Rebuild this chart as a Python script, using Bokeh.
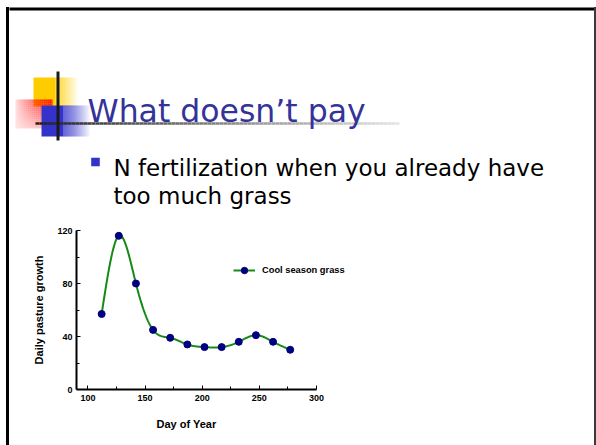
import numpy as np
from bokeh.plotting import figure
from bokeh.layouts import column, row
from bokeh.models import (Label, Range1d, FixedTicker, Legend, LegendItem,
                          ColumnDataSource, Title, Spacer, Div)
from bokeh.embed import file_html
from bokeh.resources import INLINE

# ---------------- data ----------------
days = [112, 127, 142, 157, 172, 187, 202, 217, 232, 247, 262, 277]
growth = [57, 116, 80, 45, 39, 34, 32, 32, 36, 41, 36, 30]
x_ticks = [100, 150, 200, 250, 300]
x_minor_ticks = [125, 175, 225, 275]
y_ticks = [0, 40, 80, 120]
y_minor_ticks = [20, 60, 100]
x_bounds = (90, 300)
y_bounds = (0, 120)
series_name = "Cool season grass"
x_label = "Day of Year"
y_label = "Daily pasture growth"
slide_title = "What doesn\u2019t pay"
bullet_lines = ["N fertilization when you already have", "too much grass"]


def natural_spline(xs, ys, n=400):
    xs = np.asarray(xs, float)
    ys = np.asarray(ys, float)
    k = len(xs)
    h = np.diff(xs)
    A = np.zeros((k, k))
    b = np.zeros(k)
    A[0, 0] = 1
    A[-1, -1] = 1
    for i in range(1, k - 1):
        A[i, i - 1] = h[i - 1]
        A[i, i] = 2 * (h[i - 1] + h[i])
        A[i, i + 1] = h[i]
        b[i] = 3 * ((ys[i + 1] - ys[i]) / h[i] - (ys[i] - ys[i - 1]) / h[i - 1])
    c = np.linalg.solve(A, b)
    xx = np.linspace(xs[0], xs[-1], n)
    idx = np.clip(np.searchsorted(xs, xx, side="right") - 1, 0, k - 2)
    dx = xx - xs[idx]
    bc = (ys[1:] - ys[:-1]) / h - h * (2 * c[:-1] + c[1:]) / 3
    dc = (c[1:] - c[:-1]) / (3 * h)
    yy = ys[idx] + bc[idx] * dx + c[idx] * dx ** 2 + dc[idx] * dx ** 3
    return xx, yy


# ---------------- page geometry (pixels) ----------------
PAGE_W, PAGE_H = 596, 445
TOP_H = 222                 # header figure height
AX_X0, AX_X1 = 76, 316      # pixel positions of x = 90 and x = 300
AX_Y0, AX_Y1 = 389, 230     # pixel positions of y = 0 and y = 120
BORDER_TOP = (7, 10)
BORDER_LEFT = (6, 9)
BORDER_RIGHT = (594, 596)
MID_X0, MID_X1 = BORDER_LEFT[1], BORDER_RIGHT[0]


def no_align(f):
    if "frame_align" in f.properties():
        f.frame_align = False
    return f


def bare_fig(w, h, x0, x1, y0, y1):
    f = figure(width=w, height=h, output_backend="svg", toolbar_location=None,
               x_range=Range1d(x0, x1), y_range=Range1d(y1, y0),
               x_axis_location=None, y_axis_location=None, min_border=0)
    f.xgrid.visible = False
    f.ygrid.visible = False
    f.outline_line_color = None
    f.border_fill_color = "white"
    f.background_fill_color = "white"
    return no_align(f)


# ---------------- header (slide title, bullet, logo) ----------------
top = bare_fig(MID_X1 - MID_X0, TOP_H, MID_X0, MID_X1, 0, TOP_H)
R = dict(l=[], r=[], t=[], b=[], c=[], a=[])


def rect(x0, y0, x1, y1, color, alpha=1.0):
    R["l"].append(x0); R["r"].append(x1); R["t"].append(y0); R["b"].append(y1)
    R["c"].append(color); R["a"].append(alpha)


# yellow square with right fade
rect(33, 77, 55, 106, "#FFCC00")
for i in range(23):
    rect(55 + i, 77, 56 + i, 106, "#FFCC00", 1 - (i + 0.5) / 23)
# red square, diagonal fade
cell = 2
for ix in range(0, 37, cell):
    for iy in range(0, 29, cell):
        u = (ix + cell / 2) / 37
        v = (iy + cell / 2) / 29
        a = max(0.0, min(1.0, 0.1 + 0.9 * u ** 0.8 * (1 - 0.8 * v)))
        rect(15 + ix, 99 + iy, min(15 + ix + cell, 52), min(99 + iy + cell, 128), "#FF0000", a)
# blue square with right fade
rect(41, 105, 63, 136, "#3333CC")
for i in range(27):
    rect(63 + i, 105, 64 + i, 136, "#3333CC", 1 - (i + 0.5) / 27)
# horizontal gradient rule
seg = 4
n_seg = int((400 - 35) / seg)
for i in range(n_seg):
    g = int(0x22 + (0xE4 - 0x22) * i / (n_seg - 1))
    rect(35 + i * seg, 121.7, 35 + (i + 1) * seg, 124.3, "#%02x%02x%02x" % (g, g, g))
# vertical black line
rect(56, 71, 59, 140, "#1a1a1a")
# slide top border
rect(MID_X0 - 1, BORDER_TOP[0], MID_X1 + 1, BORDER_TOP[1], "black")
# bullet square
rect(90.7, 157.3, 99.3, 165.7, "#3333CC")

top.quad(left="l", right="r", top="t", bottom="b", fill_color="c", fill_alpha="a",
         line_color=None, source=ColumnDataSource(R))

top.add_layout(Label(x=87, y=110, text=slide_title, text_font="DejaVu Sans",
                     text_font_size="31.5px", text_color="#333399",
                     text_baseline="alphabetic", text_align="left"))
top.add_layout(Label(x=113, y=167.3, text=bullet_lines[0], text_font="DejaVu Sans",
                     text_font_size="23px", text_color="black",
                     text_baseline="alphabetic", text_align="left"))
top.add_layout(Label(x=113, y=195.5, text=bullet_lines[1], text_font="DejaVu Sans",
                     text_font_size="23px", text_color="black",
                     text_baseline="alphabetic", text_align="left"))

# ---------------- chart ----------------
bot_h = PAGE_H - TOP_H
chart_w = MID_X1 - MID_X0
frame_w = MID_X1 - AX_X0
px_per_x = (AX_X1 - AX_X0) / (x_bounds[1] - x_bounds[0])
x_end = x_bounds[0] + frame_w / px_per_x

p = figure(width=chart_w, height=bot_h, output_backend="svg", toolbar_location=None,
           x_range=Range1d(x_bounds[0], x_end), y_range=Range1d(y_bounds[0], y_bounds[1]),
           min_border_left=AX_X0 - MID_X0, min_border_right=0,
           min_border_top=AX_Y1 - TOP_H, min_border_bottom=PAGE_H - AX_Y0)
no_align(p)
p.xgrid.visible = False
p.ygrid.visible = False
p.outline_line_color = None
p.background_fill_color = "white"
p.border_fill_color = "white"

CF = "Liberation Sans"
for ax in (p.xaxis[0], p.yaxis[0]):
    ax.axis_line_width = 2
    ax.axis_line_color = "black"
    ax.major_tick_in = 4
    ax.major_tick_out = 0
    ax.minor_tick_in = 3
    ax.minor_tick_out = 0
    ax.major_tick_line_color = "black"
    ax.minor_tick_line_color = "black"
    ax.major_label_text_font = CF
    ax.major_label_text_font_style = "bold"
    ax.major_label_text_font_size = "9px"
    ax.major_label_text_color = "black"
    ax.axis_label_text_font = CF
    ax.axis_label_text_font_style = "bold"
    ax.axis_label_text_font_size = "11px"
    ax.axis_label_text_color = "black"

p.xaxis[0].ticker = FixedTicker(ticks=x_ticks, minor_ticks=x_minor_ticks)
p.yaxis[0].ticker = FixedTicker(ticks=y_ticks, minor_ticks=y_minor_ticks)
p.xaxis[0].bounds = x_bounds
p.yaxis[0].bounds = y_bounds
p.yaxis[0].axis_label = y_label
p.xaxis[0].major_label_standoff = 5
p.yaxis[0].major_label_standoff = 4
p.yaxis[0].axis_label_standoff = 9

# x axis title as a bottom title, aligned under the axis extent
p.add_layout(Title(text=x_label, align="left", offset=80, text_font=CF,
                   text_font_style="bold", text_font_size="11px",
                   text_color="black", standoff=24), "below")

sx, sy = natural_spline(days, growth)
curve_src = ColumnDataSource(dict(x=sx, y=sy))
pts_src = ColumnDataSource(dict(x=days, y=growth))
line_r = p.line("x", "y", source=curve_src, line_color="#168a16", line_width=2)
pts_r = p.scatter("x", "y", source=pts_src, size=7, fill_color="#000080",
                  line_color="#000080", marker="circle")

legend = Legend(items=[LegendItem(label=series_name, renderers=[line_r, pts_r])],
                location=(157, 111), padding=0, margin=0, spacing=0,
                border_line_color=None, background_fill_alpha=0,
                glyph_width=22, glyph_height=16, label_height=16,
                label_standoff=7, label_text_font=CF,
                label_text_font_style="bold", label_text_font_size="9.3px",
                label_text_color="black")
p.add_layout(legend)

# ---------------- slide side borders (plain coloured blocks) ----------------
lw = BORDER_LEFT[1] - BORDER_LEFT[0]
rw = BORDER_RIGHT[1] - BORDER_RIGHT[0]
side_h = PAGE_H - BORDER_TOP[0]


def block(w, h, color):
    return Div(text="", width=w, height=h, margin=0,
               styles={"background-color": color, "margin": "0", "padding": "0"})


left_col = column(Spacer(width=lw, height=BORDER_TOP[0], margin=0),
                  block(lw, side_h, "black"), spacing=0)
right_col = column(Spacer(width=rw, height=BORDER_TOP[0], margin=0),
                   block(rw, side_h, "#3a3a3a"), spacing=0)
mid_col = column(top, p, spacing=0)

layout = row(Spacer(width=BORDER_LEFT[0], height=PAGE_H, margin=0),
             left_col, mid_col, right_col, spacing=0)
open("out.html", "w").write(file_html(layout, INLINE))
